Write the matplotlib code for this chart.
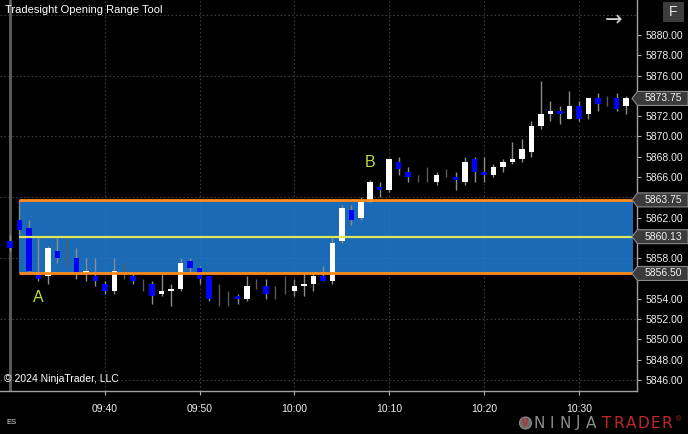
import numpy as np
import matplotlib
matplotlib.use("Agg")
import matplotlib.pyplot as plt
from matplotlib.patches import Polygon, Rectangle, Circle
from matplotlib.transforms import IdentityTransform

plt.rcParams['font.family'] = ['Liberation Sans', 'DejaVu Sans']

# one-minute ES bars from 09:30
opens = [5859.75, 5861.75, 5861.0, 5856.5, 5856.25, 5858.75, 5858.5, 5858.0, 5856.5, 5856.25,
         5855.5, 5854.75, 5856.75, 5856.25, 5855.25, 5855.5, 5854.5, 5854.75, 5855.0, 5857.75,
         5857.0, 5856.25, 5854.5, 5854.0, 5854.25, 5854.0, 5855.25, 5855.25, 5854.5, 5855.0,
         5854.75, 5855.25, 5855.5, 5856.25, 5855.75, 5859.75, 5862.75, 5862.0, 5863.5, 5865.0,
         5864.75, 5867.5, 5866.5, 5866.0, 5866.25, 5865.5, 5866.5, 5866.0, 5865.5, 5867.75,
         5866.5, 5866.25, 5867.0, 5867.5, 5867.75, 5868.5, 5871.0, 5872.25, 5872.5, 5871.75,
         5873.0, 5872.25, 5873.75, 5873.5, 5873.75, 5873.0]
highs = [5860.25, 5863.75, 5861.75, 5860.0, 5859.25, 5860.0, 5860.25, 5859.0, 5858.0, 5858.0,
         5855.75, 5858.0, 5857.5, 5856.5, 5856.0, 5855.75, 5856.5, 5855.5, 5858.0, 5858.0,
         5857.25, 5856.25, 5855.5, 5854.75, 5854.5, 5856.25, 5856.0, 5856.0, 5855.25, 5856.25,
         5856.0, 5856.5, 5856.5, 5857.25, 5860.0, 5863.25, 5863.25, 5864.0, 5865.75, 5865.5,
         5867.75, 5868.0, 5867.0, 5866.25, 5867.0, 5866.5, 5866.75, 5866.5, 5868.0, 5868.0,
         5868.0, 5867.25, 5867.75, 5869.5, 5869.75, 5871.5, 5875.5, 5873.5, 5873.0, 5874.5,
         5873.5, 5873.75, 5874.25, 5874.0, 5874.25, 5874.0]
lows = [5858.75, 5860.25, 5856.5, 5855.75, 5855.5, 5857.5, 5857.25, 5856.0, 5855.75, 5855.25,
        5854.5, 5854.5, 5856.0, 5855.5, 5854.75, 5853.5, 5854.25, 5853.25, 5854.75, 5856.5,
        5855.5, 5853.75, 5853.25, 5853.25, 5853.5, 5853.75, 5855.0, 5854.0, 5854.0, 5854.5,
        5854.25, 5854.25, 5854.75, 5855.75, 5855.5, 5859.5, 5861.25, 5861.75, 5863.5, 5864.0,
        5864.5, 5866.25, 5865.5, 5865.5, 5865.5, 5865.25, 5866.0, 5864.75, 5865.25, 5865.5,
        5865.5, 5866.0, 5866.5, 5867.25, 5867.5, 5868.0, 5870.75, 5871.5, 5871.25, 5871.75,
        5871.5, 5871.75, 5872.5, 5873.0, 5872.5, 5872.25]
closes = [5859.0, 5860.75, 5856.75, 5856.0, 5859.0, 5858.0, 5858.5, 5856.5, 5856.75, 5855.75,
          5854.75, 5856.75, 5856.75, 5855.75, 5855.25, 5854.25, 5854.75, 5855.0, 5857.5, 5857.0,
          5856.0, 5854.0, 5854.5, 5854.0, 5854.0, 5855.25, 5855.25, 5854.5, 5854.5, 5855.0,
          5855.25, 5855.5, 5856.25, 5855.75, 5859.5, 5863.0, 5861.75, 5863.5, 5865.5, 5864.75,
          5867.75, 5866.75, 5866.0, 5866.0, 5866.25, 5866.25, 5866.5, 5865.75, 5867.5, 5866.5,
          5866.25, 5867.0, 5867.5, 5867.75, 5868.75, 5871.0, 5872.25, 5872.5, 5872.25, 5873.0,
          5871.75, 5873.75, 5873.25, 5873.5, 5872.75, 5873.75]

time_ticks = [10, 20, 30, 40, 50, 60]
time_labels = ['09:40', '09:50', '10:00', '10:10', '10:20', '10:30']

or_high = 5863.75
or_low = 5856.50
or_mid = 5860.13
or_start = 1
last_price = 5873.75

label_prices = [last_price, or_high, or_mid, or_low]
label_texts = ['5873.75', '5863.75', '5860.13', '5856.50']

x = np.arange(len(opens))
o = np.array(opens)
c = np.array(closes)

fig = plt.figure(figsize=(6.88, 4.34), dpi=100, facecolor='black')
ax = fig.add_axes([0, 43 / 434, 637 / 688, 391 / 434], facecolor='black')
ax.set_xlim(-1.055, 66.14)
ax.set_ylim(5844.92, 5883.45)

# grid
for gy in np.arange(5846, 5884, 6):
    ax.axhline(gy, color='#3c3c3c', lw=0.8, ls=(0, (1.5, 2)), zorder=0.5)
for gx in time_ticks:
    ax.axvline(gx, color='#3c3c3c', lw=0.8, ls=(0, (1.5, 2)), zorder=0.5)
ax.axvline(0, color='#606060', lw=2, zorder=0.6)

# opening range box
ax.fill_between([or_start, 65.7], or_low, or_high, color='#1f7dd6', alpha=0.85, lw=0, zorder=1)
ax.hlines([or_high, or_low], or_start, 65.7, color='#ff8c1a', lw=2, zorder=4)
ax.hlines(or_mid, or_start, 65.7, color='#dfe85a', lw=1.6, zorder=4)

# candles
doji = o == c
wick_col = np.where(doji, '#5a5a5a', '#8c8c8c')
ax.vlines(x, lows, highs, colors=wick_col, lw=1, zorder=2.5)
body_col = np.where(c >= o, '#ffffff', '#0000ff')
ax.bar(x, np.abs(c - o), bottom=np.minimum(o, c), width=0.58, color=body_col,
       edgecolor='none', zorder=3)

ax.text(3, 5854.1, 'A', color='#c5d93a', fontsize=11.5, ha='center', va='center', zorder=5)
ax.text(38, 5867.4, 'B', color='#c5d93a', fontsize=11.5, ha='center', va='center', zorder=5)

# axes styling
for s in ['left', 'top']:
    ax.spines[s].set_visible(False)
for s in ['right', 'bottom']:
    ax.spines[s].set_color('#a0a0a0')
    ax.spines[s].set_linewidth(1)
ax.yaxis.tick_right()
yt = np.arange(5846, 5881, 2)
hidden = [5856, 5860, 5864, 5874]  # covered by the price markers
ax.set_yticks(yt)
ax.set_yticklabels(['' if v in hidden else '%.2f' % v for v in yt])
ax.set_xticks(time_ticks)
ax.set_xticklabels(time_labels)
ax.tick_params(axis='both', colors='#b0b0b0', labelcolor='#f0f0f0', labelsize=7.5,
               length=3, width=0.8, pad=3)
ax.tick_params(axis='x', pad=6)

ax.text(0.008, 0.974, 'Tradesight Opening Range Tool', transform=ax.transAxes,
        color='white', fontsize=8, va='center', ha='left')
ax.text(0.006, 0.03, '\u00a9 2024 NinjaTrader, LLC', transform=ax.transAxes,
        color='white', fontsize=7.5, va='center', ha='left')
fig.text(6 / 688, 1 - 423 / 434, 'ES', color='#e0e0e0', fontsize=5.5, va='center')

# price labels on the right
idt = IdentityTransform()
for p, t in zip(label_prices, label_texts):
    yd = ax.transData.transform((0, p))[1]
    poly = Polygon([(632, yd), (637.5, yd + 7), (688, yd + 7), (688, yd - 7), (637.5, yd - 7)],
                   closed=True, facecolor='#3b3b3b', edgecolor='#8a8a8a', lw=0.8,
                   transform=idt, zorder=10)
    fig.add_artist(poly)
    fig.text(663, yd, t, color='#f4f4f4', fontsize=7.5, ha='center', va='center',
             transform=idt, zorder=11)

# top-right buttons
fig.add_artist(Rectangle((663, 434 - 22), 21, 20, facecolor='#3d3d3d', edgecolor='none',
                         transform=idt))
fig.text(673.5, 434 - 12, 'F', color='#e6e6e6', fontsize=10, ha='center', va='center',
         transform=idt)
fig.text(614, 434 - 20, '\u2192', color='#d0d0d0', fontsize=15, ha='center', va='center',
         transform=idt, family='DejaVu Sans')

# NinjaTrader logo
ly = 434 - 423
fig.add_artist(Circle((525.5, ly), 6, facecolor='#6a6a6a', edgecolor='#8a8a8a', lw=0.8,
                      transform=idt))
fig.text(525.5, ly - 0.5, 'V', color='#c0272d', fontsize=7, fontweight='bold',
         ha='center', va='center', transform=idt)
for i, ch in enumerate('NINJA'):
    fig.text(539 + i * 13, ly, ch, color='#8c8c8c', fontsize=11, ha='center', va='center',
             transform=idt, family='DejaVu Sans')
for i, ch in enumerate('TRADER'):
    fig.text(607 + i * 12, ly, ch, color='#c0272d', fontsize=11, ha='center', va='center',
             transform=idt, family='DejaVu Sans')
fig.text(679, ly + 3, '\u00ae', color='#c0272d', fontsize=5, ha='center', va='center',
         transform=idt)

fig.savefig('out.png', dpi=100, facecolor='black')
